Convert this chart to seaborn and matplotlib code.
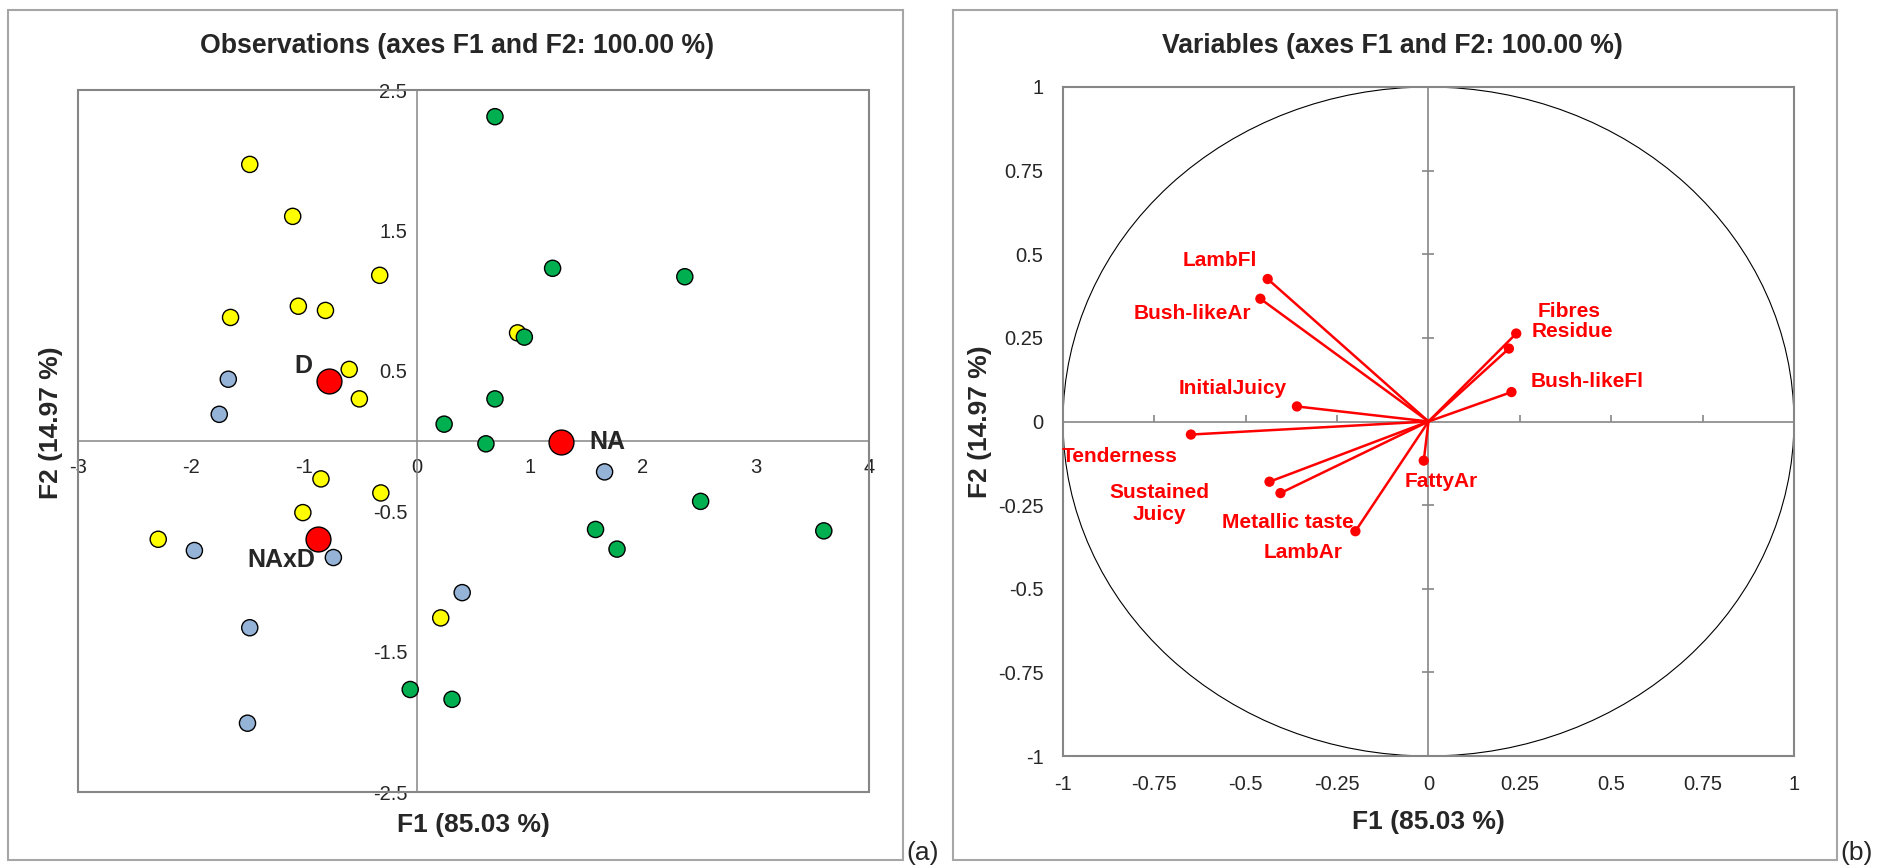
import numpy as np
import pandas as pd
import matplotlib
matplotlib.use("Agg")
import matplotlib.pyplot as plt
from matplotlib.patches import Rectangle, Circle
import seaborn as sns

# observation scores (F1, F2) per treatment
d_f1 = [-1.48, -1.10, -0.33, -1.05, -0.81, -1.65, 0.89, -0.60, -0.51, -0.85, -0.32, -1.01, -2.29, 0.21]
d_f2 = [1.97, 1.60, 1.18, 0.96, 0.93, 0.88, 0.77, 0.51, 0.30, -0.27, -0.37, -0.51, -0.70, -1.26]
na_f1 = [0.69, 1.20, 2.37, 0.95, 0.69, 0.24, 0.61, 2.51, 1.58, 3.60, 1.77, -0.06, 0.31]
na_f2 = [2.31, 1.23, 1.17, 0.74, 0.30, 0.12, -0.02, -0.43, -0.63, -0.64, -0.77, -1.77, -1.84]
naxd_f1 = [-1.67, -1.75, 1.66, -1.97, -0.74, 0.40, -1.48, -1.50]
naxd_f2 = [0.44, 0.19, -0.22, -0.78, -0.83, -1.08, -1.33, -2.01]

centroid_names = ["D", "NA", "NAxD"]
centroid_f1 = [-0.78, 1.27, -0.88]
centroid_f2 = [0.43, -0.01, -0.70]

# variable loadings
variables = ["LambFl", "Bush-likeAr", "InitialJuicy", "Tenderness", "Sustained\nJuicy",
             "Metallic taste", "LambAr", "FattyAr", "Fibres", "Residue", "Bush-likeFl"]
var_f1 = [-0.44, -0.46, -0.36, -0.65, -0.435, -0.405, -0.20, -0.013, 0.24, 0.22, 0.227]
var_f2 = [0.426, 0.367, 0.045, -0.039, -0.18, -0.214, -0.328, -0.117, 0.263, 0.218, 0.088]

obs_ticks_x = [-3, -2, -1, 0, 1, 2, 3, 4]
obs_ticks_y = [2.5, 1.5, 0.5, -0.5, -1.5, -2.5]
var_ticks = [-1, -0.75, -0.5, -0.25, 0, 0.25, 0.5, 0.75, 1]

obs = pd.DataFrame({
    "F1": d_f1 + na_f1 + naxd_f1,
    "F2": d_f2 + na_f2 + naxd_f2,
    "group": ["D"] * len(d_f1) + ["NA"] * len(na_f1) + ["NAxD"] * len(naxd_f1),
})
palette = {"D": "#FFFF00", "NA": "#00B050", "NAxD": "#95B3D7"}

# label offsets in pixels
centroid_offsets = {"D": (-25, 15), "NA": (47, 0), "NAxD": (-36, -21)}
var_offsets = {
    "LambFl": (-48, 19), "Bush-likeAr": (-68, -15), "InitialJuicy": (-64, 18),
    "Tenderness": (-71, -22), "Sustained\nJuicy": (-110, -22), "Metallic taste": (7, -29),
    "LambAr": (-52, -21), "FattyAr": (18, -21), "Fibres": (53, 22),
    "Residue": (63, 17), "Bush-likeFl": (76, 11),
}

sns.set_style("white")
plt.rcParams["font.family"] = ["Liberation Sans", "DejaVu Sans"]
plt.rcParams["axes.unicode_minus"] = False

W, H = 1883, 868
fig = plt.figure(figsize=(W / 100, H / 100), dpi=100)
frame_col = "#A6A6A6"
axis_col = "#868686"


def px_axes(x0, y0, x1, y1):
    return fig.add_axes([x0 / W, 1 - y1 / H, (x1 - x0) / W, (y1 - y0) / H])


for x0, x1 in [(8, 903), (953, 1837)]:
    fig.patches.append(Rectangle((x0 / W, 1 - 860 / H), (x1 - x0) / W, 850 / H,
                                 transform=fig.transFigure, fill=False,
                                 edgecolor=frame_col, lw=1.5))

# ---- left: observations ----
ax1 = px_axes(78, 90, 869, 792)
sns.scatterplot(data=obs, x="F1", y="F2", hue="group", palette=palette, s=135,
                edgecolor="black", linewidth=1.0, legend=False, ax=ax1, zorder=3)
sns.scatterplot(x=centroid_f1, y=centroid_f2, color="#FF0000", s=320,
                edgecolor="black", linewidth=1.0, legend=False, ax=ax1, zorder=4)
for name, x, y in zip(centroid_names, centroid_f1, centroid_f2):
    ax1.annotate(name, (x, y), xytext=centroid_offsets[name], textcoords="offset pixels",
                 ha="center", va="center", fontsize=18, fontweight="bold")
ax1.set_xlim(-3, 4)
ax1.set_ylim(-2.5, 2.5)
ax1.set_xticks(obs_ticks_x)
ax1.set_xticklabels([f"{t:g}" for t in obs_ticks_x])
ax1.set_yticks(obs_ticks_y)
ax1.set_yticklabels([f"{t:g}" for t in obs_ticks_y])
ax1.spines["left"].set_position(("data", 0))
ax1.spines["bottom"].set_position(("data", 0))
ax1.spines["top"].set_visible(False)
ax1.spines["right"].set_visible(False)
for s in ["left", "bottom"]:
    ax1.spines[s].set_color(axis_col)
    ax1.spines[s].set_linewidth(1.1)
ax1.add_patch(Rectangle((0, 0), 1, 1, transform=ax1.transAxes, fill=False,
                        edgecolor=axis_col, lw=1.5, clip_on=False, zorder=1))
ax1.tick_params(axis="x", direction="in", length=5, width=1.1, color=axis_col,
                labelsize=14.5, pad=12)
ax1.tick_params(axis="y", direction="inout", length=10, width=1.1, color=axis_col,
                labelsize=14.5, pad=2)
ax1.set_xlabel("")
ax1.set_ylabel("")
ax1.text(0.5, -0.03, "F1 (85.03 %)", transform=ax1.transAxes, ha="center", va="top",
         fontsize=19, fontweight="bold")
fig.text(51 / W, 1 - 423 / H, "F2 (14.97 %)", rotation=90, ha="center", va="center",
         fontsize=19, fontweight="bold")
fig.text(457 / W, 1 - 46 / H, "Observations (axes F1 and F2: 100.00 %)", ha="center",
         va="center", fontsize=19.2, fontweight="bold")

# ---- right: variables ----
ax2 = px_axes(1063, 87, 1794, 756)
ax2.add_patch(Circle((0, 0), 1, fill=False, edgecolor="black", lw=0.8, zorder=2))
ax2.axhline(0, color=axis_col, lw=1.2, zorder=1)
ax2.axvline(0, color=axis_col, lw=1.2, zorder=1)
inner = [t for t in var_ticks if t not in (-1, 0, 1)]
ax2.plot(inner, [0] * len(inner), ls="none", marker=2, ms=5, mew=1.2, color=axis_col)
ax2.plot([0] * len(inner), inner, ls="none", marker="_", ms=8, mew=1.2, color=axis_col)
for x, y in zip(var_f1, var_f2):
    ax2.plot([0, x], [0, y], color="#FF0000", lw=1.8, zorder=3)
sns.scatterplot(x=var_f1, y=var_f2, color="#FF0000", s=55, edgecolor="none",
                legend=False, ax=ax2, zorder=4)
for name, x, y in zip(variables, var_f1, var_f2):
    ax2.annotate(name, (x, y), xytext=var_offsets[name], textcoords="offset pixels",
                 ha="center", va="center", fontsize=15, fontweight="bold",
                 color="#FF0000")
ax2.set_xlim(-1, 1)
ax2.set_ylim(-1, 1)
ax2.set_xticks(var_ticks)
ax2.set_xticklabels([f"{t:g}" for t in var_ticks])
ax2.set_yticks(var_ticks)
ax2.set_yticklabels([f"{t:g}" for t in var_ticks])
ax2.tick_params(length=0, labelsize=14.5, pad=14)
for s in ax2.spines.values():
    s.set_color(axis_col)
    s.set_linewidth(1.5)
ax2.set_xlabel("F1 (85.03 %)", fontsize=19, fontweight="bold", labelpad=11)
ax2.set_ylabel("F2 (14.97 %)", fontsize=19, fontweight="bold", labelpad=4)
fig.text(1392 / W, 1 - 46 / H, "Variables (axes F1 and F2: 100.00 %)", ha="center",
         va="center", fontsize=19.2, fontweight="bold")

fig.text(923 / W, 1 - 853 / H, "(a)", ha="center", va="center", fontsize=19)
fig.text(1857 / W, 1 - 853 / H, "(b)", ha="center", va="center", fontsize=19)

fig.savefig("out.png", dpi=100)
